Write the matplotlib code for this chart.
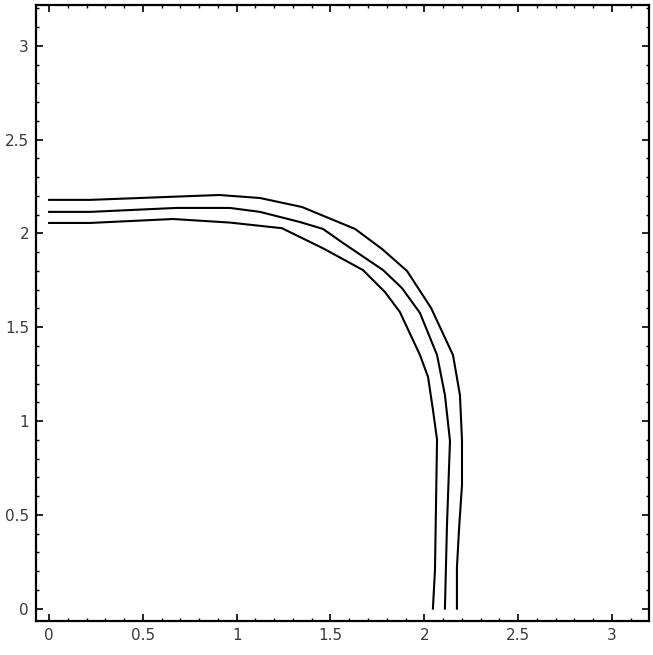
import matplotlib
matplotlib.use("Agg")
import matplotlib.pyplot as plt
from matplotlib.ticker import MultipleLocator, FuncFormatter

# Contour line vertices (data coordinates)
outer_x = [0.0, 0.218, 0.906, 1.124, 1.348, 1.631, 1.775, 1.908, 2.036, 2.153, 2.190, 2.201, 2.201, 2.185, 2.174, 2.174]
outer_y = [2.179, 2.179, 2.205, 2.189, 2.141, 2.024, 1.917, 1.800, 1.603, 1.352, 1.139, 0.899, 0.659, 0.420, 0.217, 0.0]

middle_x = [0.0, 0.218, 0.676, 0.964, 1.124, 1.337, 1.460, 1.567, 1.780, 1.881, 1.977, 2.068, 2.110, 2.137, 2.121, 2.110]
middle_y = [2.115, 2.115, 2.136, 2.136, 2.115, 2.061, 2.024, 1.949, 1.805, 1.709, 1.576, 1.352, 1.139, 0.894, 0.446, 0.0]

inner_x = [0.0, 0.218, 0.660, 0.964, 1.241, 1.460, 1.673, 1.790, 1.870, 1.977, 2.020, 2.046, 2.068, 2.057, 2.046]
inner_y = [2.056, 2.056, 2.077, 2.058, 2.028, 1.921, 1.805, 1.688, 1.581, 1.352, 1.235, 1.061, 0.901, 0.207, 0.0]

tick_values = [0, 0.5, 1, 1.5, 2, 2.5, 3]

fig = plt.figure(figsize=(6.53, 6.55), dpi=100)
ax = fig.add_axes([0.0551, 0.0519, 0.9388, 0.9405])

for xs, ys in [(outer_x, outer_y), (middle_x, middle_y), (inner_x, inner_y)]:
    ax.plot(xs, ys, color="black", lw=1.5, solid_joinstyle="miter")

ax.set_xlim(-0.07, 3.198)
ax.set_ylim(-0.066, 3.218)

fmt = FuncFormatter(lambda v, p: ("%g" % v))
ax.set_xticks(tick_values)
ax.set_yticks(tick_values)
for axis in (ax.xaxis, ax.yaxis):
    axis.set_minor_locator(MultipleLocator(0.1))
    axis.set_major_formatter(fmt)

ax.tick_params(which="both", direction="in", top=True, right=True, color="black")
ax.tick_params(which="major", length=5, width=1.2, labelsize=11, pad=5)
ax.tick_params(which="minor", length=2.5, width=1.0)
ax.tick_params(axis="y", which="major", pad=5)
for lab in ax.get_xticklabels() + ax.get_yticklabels():
    lab.set_color("#3a3a3a")

for s in ax.spines.values():
    s.set_linewidth(1.6)

fig.savefig("out.png", dpi=100)
